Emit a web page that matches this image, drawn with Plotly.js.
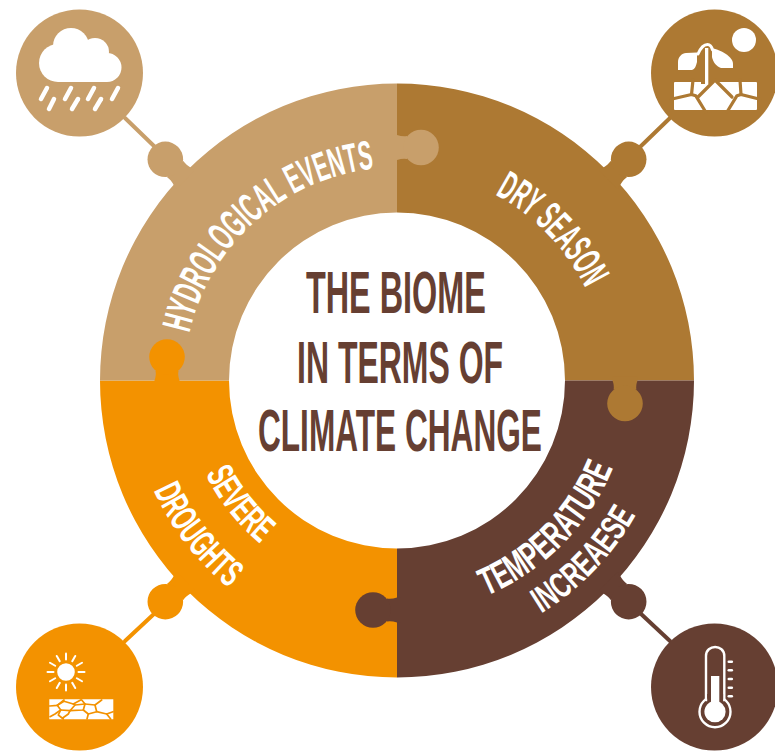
<!DOCTYPE html>
<html><head><meta charset="utf-8">
<script src="https://cdn.plot.ly/plotly-3.0.1.min.js"></script>
<style>
html,body{margin:0;padding:0;background:#fff}
#chart{width:775px;height:752px}
.shapelayer path{stroke-linecap:round;stroke-linejoin:round}
</style></head><body><div id="chart"></div>
<script>
// ---- data ----
const categories = ["Dry Season","Temperature Increaese","Severe Droughts","Hydrological Events"];
const values = [25,25,25,25];
const sliceColors = ["#AD7933","#663F32","#F39200","#C89F6B"];
const titleLines = ["THE BIOME","IN TERMS OF","CLIMATE CHANGE"];
const titleCentersX = [396,400,400.5];
const titleCentersY = [293,362.5,431];
const titleWidths = [180,206,284];
// label text, baseline radius, start clock angle, end clock angle, font size
const ringText  = ["HYDROLOGICAL EVENTS","DRY SEASON","TEMPERATURE","INCREAESE","SEVERE","DROUGHTS"];
const ringRad   = [213,210,233,274,213,267];
const ringStart = [-77.2,27.8,157.5,148.2,244,245.7];
const ringEnd   = [-6.2,63.9,112,119.4,220,219];
const ringSize  = [41,41,39,36,38,38];

// ---- geometry helpers (page pixels -> paper) ----
const W=775,H=752,CX=397,CY=380.5,RO=297,RI=168;
const px=x=>x/W, py=y=>1-y/H;
const T=s=>s.replace(/(-?[\d.]+)[ ,](-?[\d.]+)/g,(m,a,b)=>px(+a)+","+py(+b));
const shapes=[];
const circ=(x,y,r,fill,lc,lw)=>shapes.push({type:"circle",xref:"paper",yref:"paper",layer:"above",
  x0:px(x-r),x1:px(x+r),y0:py(y+r),y1:py(y-r),fillcolor:fill,line:{width:lw||0,color:lc||fill}});
const path=(d,fill,lc,lw)=>shapes.push({type:"path",xref:"paper",yref:"paper",layer:"above",path:T(d),
  fillcolor:fill||"rgba(0,0,0,0)",line:{width:lw||0,color:lc||"rgba(0,0,0,0)"}});
const stroke=(d,c,w)=>path(d,null,c,w);

function tab(bx,by,dx,dy,dist,color){
  const l=Math.hypot(dx,dy),ux=dx/l,uy=dy/l;
  const P=(u,v)=>(bx+ux*u-uy*v).toFixed(2)+","+(by+uy*u+ux*v).toFixed(2);
  const m=dist-14;
  const d=`M${P(-4,-13)} L${P(0,-12.5)} Q${P(m*0.6,-10.5)} ${P(m,-11.5)} L${P(m,11.5)} Q${P(m*0.6,10.5)} ${P(0,12.5)} L${P(-4,13)} Z`;
  path(d,color);
  circ(bx+ux*dist,by+uy*dist,17.8,color);
}
const [cDry,cTemp,cSev,cHyd]=sliceColors;

// inner puzzle tabs
tab(397,147.5,1,0,24,cHyd);
tab(625,380.5,0,1,23,cDry);
tab(397,610,-1,0,24,cTemp);
tab(167,380.5,0,-1,23.5,cSev);

// outer tabs, connectors, badges
tab(183,177,-1,-1,25,cHyd); stroke("M125,118 L155,147",cHyd,4); circ(79.5,73,63.5,cHyd);
tab(611,177,1,-1,25,cDry);  stroke("M670,118 L640,147",cDry,4); circ(714.5,73,63.5,cDry);
tab(183,584,-1,1,25,cSev);  stroke("M125,641 L155,613",cSev,4); circ(79.5,687,63.5,cSev);
tab(611,584,1,1,25,cTemp);  stroke("M670,641 L640,613",cTemp,4); circ(714.5,687,63.5,cTemp);

// --- rain cloud icon ---
circ(58,63,19,"#fff"); circ(107,67.5,14.5,"#fff"); circ(71,46,18,"#fff"); circ(95,52,14,"#fff");
path("M58,50 L107,50 L107,82 L58,82 Z","#fff");
[[47,88,41,99],[71,88,65,99],[94,88,88,99],[118,88,112,99],[54,99,49,109],[78,99,72,109],[101,99,95,109]]
  .forEach(a=>stroke(`M${a[0]},${a[1]} L${a[2]},${a[3]}`,"#fff",4.5));

// --- dry soil and plant icon ---
circ(744,40,12,"#fff");
path("M675,83 L756,83 L756,109 L675,109 Z","#fff","#fff",2);
["M671,99.3 L691.5,94.5 L695.7,95.7 L705.7,112","M691.5,94.5 L693,80",
 "M760,99.3 L741,94.5 L737,95.7 L727,112","M741,94.5 L740,80",
 "M698,97 L715,80 L732,97"].forEach(d=>stroke(d,cDry,3.2));
path("M701,78 L701,84 L712,84 L712,78 Z",cDry);
path("M705,48 L708.3,48 L708.3,84 L705,84 Z","#fff");
stroke("M698,54 C701,47 704,44.5 707.5,44.5 C710,44.5 711.5,46 712.5,50","#fff",3);
path("M678,70 L678,62 C678,57 682,53 686,53 L697,52.5 L697,62 C696,66 695,69 692,70 Z","#fff");
path("M712,48 C720,50 733,56 733,64 L733,68 L721,68 C716,66 713,62 712,57 Z","#fff");

// --- sun and cracked ground icon ---
circ(66,672,8.8,"#fff");
for(let i=0;i<12;i++){const a=i*Math.PI/6,c=Math.cos(a),s=Math.sin(a);
  stroke(`M${66+12.5*c},${672+12.5*s} L${66+18.5*c},${672+18.5*s}`,"#fff",2);}
path("M49.3,699.3 L113.3,699.3 L113.3,719.3 L49.3,719.3 Z","#fff");
const Z=(...p)=>"M"+p.map(q=>(40+q[0]/3).toFixed(1)+","+(690+q[1]/3).toFixed(1)).join(" L");
[Z([29,48],[52,46],[72,30]),Z([52,46],[72,34],[100,42],[122,30]),Z([52,46],[62,60],[45,72],[30,80]),
 Z([62,60],[55,75],[70,87]),Z([62,60],[90,62],[105,45],[100,42]),Z([90,62],[85,72],[68,84]),
 Z([105,45],[135,42],[125,30]),Z([135,42],[130,60],[90,62]),Z([130,60],[145,72],[170,65],[165,45],[185,30]),
 Z([145,72],[141,87]),Z([170,65],[200,72],[219,65]),Z([200,72],[212,87]),Z([165,45],[135,42])]
 .forEach(d=>stroke(d,cSev,1.7));

// --- thermometer icon ---
circ(715,711.7,15.5,cTemp,"#fff",2.4);
path("M706,700 L706,656 C706,644 724.3,644 724.3,656 L724.3,700 Z",cTemp,"#fff",2.4);
path("M707.2,694 L723.1,694 L723.1,708 L707.2,708 Z",cTemp);
circ(715,711.7,10.6,"#fff");
path("M711,676 L719.3,676 L719.3,706 L711,706 Z","#fff");
[661.7,670.3,679,687.7,696.3].forEach(y=>stroke(`M728.8,${y} L731.8,${y}`,"#fff",2.6));

// ---- annotations ----
const FONT='"Liberation Sans Narrow","Liberation Sans",Arial,sans-serif';
const annotations=[];
ringText.forEach((t,i)=>{
  const m=(ringStart[i]+ringEnd[i])/2*Math.PI/180;
  annotations.push({text:t,xref:"paper",yref:"paper",showarrow:false,
    x:px(CX+(ringRad[i])*Math.sin(m)),y:py(CY-(ringRad[i])*Math.cos(m)),
    font:{family:FONT,size:ringSize[i],color:"#fff",weight:700}});
});
titleLines.forEach((t,i)=>annotations.push({text:t,xref:"paper",yref:"paper",showarrow:false,
  x:px(titleCentersX[i]),y:py(titleCentersY[i]),xanchor:"center",yanchor:"middle",
  font:{family:FONT,size:59,color:cTemp,weight:700}}));

const trace={type:"pie",labels:categories,values:values,sort:false,direction:"clockwise",rotation:0,
  hole:RI/RO,textinfo:"none",hoverinfo:"label",showlegend:false,
  marker:{colors:sliceColors,line:{width:0}},
  domain:{x:[(CX-RO)/W,(CX+RO)/W],y:[1-(CY+RO)/H,1-(CY-RO)/H]}};

const layout={width:W,height:H,margin:{l:0,r:0,t:0,b:0},paper_bgcolor:"#fff",plot_bgcolor:"#fff",
  showlegend:false,shapes:shapes,annotations:annotations};

Plotly.newPlot("chart",[trace],layout,{displayModeBar:false,staticPlot:true}).then(gd=>{
  const svg=gd.querySelector("svg.main-svg");
  const NS="http://www.w3.org/2000/svg";
  const defs=document.createElementNS(NS,"defs");svg.appendChild(defs);
  const ann=[...gd.querySelectorAll(".annotation")];
  ringText.forEach((t,i)=>{
    const a=ann[i];
    a.removeAttribute("transform");
    a.querySelectorAll("g").forEach(g=>g.removeAttribute("transform"));
    const el=a.querySelector("text");
    const r=ringRad[i],s=ringStart[i]*Math.PI/180,e=ringEnd[i]*Math.PI/180;
    const cw=ringEnd[i]>ringStart[i]?1:0;
    const large=Math.abs(e-s)>Math.PI?1:0;
    const id="ringarc"+i;
    const p=document.createElementNS(NS,"path");p.setAttribute("id",id);
    p.setAttribute("d",`M${CX+r*Math.sin(s)},${CY-r*Math.cos(s)} A${r},${r} 0 ${large} ${cw} ${CX+r*Math.sin(e)},${CY-r*Math.cos(e)}`);
    defs.appendChild(p);
    while(el.firstChild)el.removeChild(el.firstChild);
    el.removeAttribute("x");el.removeAttribute("y");el.removeAttribute("transform");
    el.setAttribute("text-anchor","start");el.style.textAnchor="start";
    const tp=document.createElementNS(NS,"textPath");
    tp.setAttribute("href","#"+id);
    tp.setAttribute("textLength",(Math.abs(e-s)*r).toFixed(1));
    tp.setAttribute("lengthAdjust","spacingAndGlyphs");
    tp.textContent=t;
    el.appendChild(tp);
  });
  titleLines.forEach((t,i)=>{
    const el=ann[ringText.length+i].querySelector("text");
    const b=el.getBBox(),cx=b.x+b.width/2,s=titleWidths[i]/b.width;
    el.setAttribute("transform",`translate(${cx},0) scale(${s},1) translate(${-cx},0)`);
  });
});
</script></body></html>
